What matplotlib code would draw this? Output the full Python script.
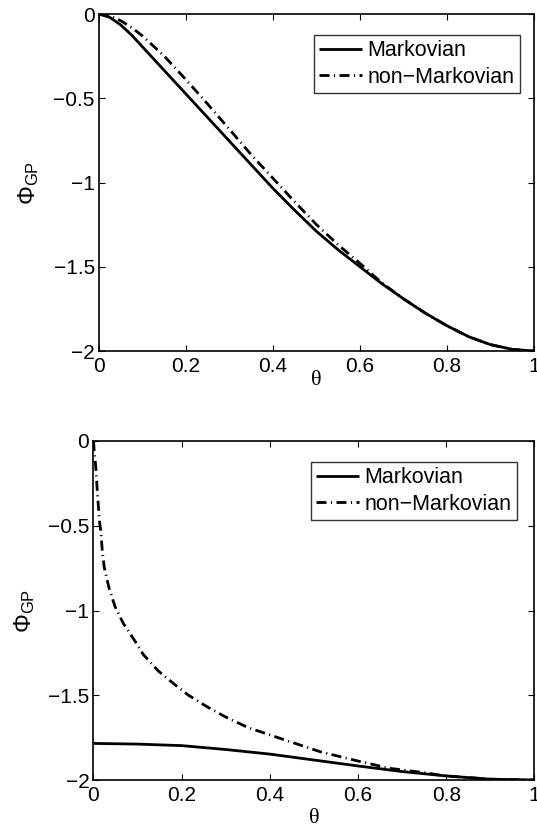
import matplotlib
matplotlib.use('Agg')
import matplotlib.pyplot as plt
import numpy as np

plt.rcParams['font.family'] = ['Liberation Sans', 'DejaVu Sans']
plt.rcParams['mathtext.fontset'] = 'custom'
plt.rcParams['mathtext.rm'] = 'Liberation Sans'

# top panel
theta_top = [0, 0.025, 0.05, 0.075, 0.1, 0.15, 0.2, 0.25, 0.3, 0.35, 0.4, 0.45,
             0.5, 0.55, 0.6, 0.65, 0.7, 0.75, 0.8, 0.85, 0.9, 0.95, 1.0]
markov_top = [0, -0.02, -0.065, -0.125, -0.195, -0.335, -0.475, -0.615, -0.755,
              -0.895, -1.035, -1.165, -1.29, -1.4, -1.5, -1.6, -1.69, -1.775,
              -1.85, -1.915, -1.962, -1.99, -2.0]
nonmarkov_top = [0, -0.01, -0.04, -0.08, -0.13, -0.25, -0.39, -0.535, -0.685,
                 -0.835, -0.975, -1.115, -1.25, -1.37, -1.48, -1.595, -1.69,
                 -1.775, -1.85, -1.915, -1.962, -1.99, -2.0]

# bottom panel
theta_m_bot = [0, 0.1, 0.2, 0.3, 0.4, 0.5, 0.6, 0.7, 0.8, 0.9, 1.0]
markov_bot = [-1.784, -1.788, -1.797, -1.82, -1.847, -1.882, -1.917, -1.95,
              -1.976, -1.995, -2.0]
theta_n_bot = [0, 0.0023, 0.005, 0.0087, 0.0136, 0.0163, 0.020, 0.0245, 0.035,
               0.0488, 0.0676, 0.094, 0.113, 0.147, 0.181, 0.215, 0.257, 0.298,
               0.35, 0.423, 0.514, 0.6, 0.672, 0.748, 0.8, 0.9, 1.0]
nonmarkov_bot = [0, -0.082, -0.146, -0.299, -0.475, -0.525, -0.649, -0.747,
                 -0.865, -0.977, -1.076, -1.18, -1.26, -1.357, -1.43, -1.499,
                 -1.567, -1.626, -1.69, -1.754, -1.833, -1.888, -1.931, -1.956,
                 -1.976, -1.995, -2.0]

labels = ['Markovian', 'non\u2212Markovian']
xticks = [0, 0.2, 0.4, 0.6, 0.8, 1]
yticks = [-2, -1.5, -1, -0.5, 0]

dashdot = (0, (3.6, 1.6, 0.4, 1.6))

fig = plt.figure(figsize=(5.37, 8.25), dpi=100)
ax1 = fig.add_axes([0.1844, 0.5745, 0.810, 0.4085])
ax2 = fig.add_axes([0.1741, 0.0545, 0.8212, 0.411])

panels = [(ax1, theta_top, markov_top, theta_top, nonmarkov_top, 0.968, -0.058, -0.133),
          (ax2, theta_m_bot, markov_bot, theta_n_bot, nonmarkov_bot, 0.960, -0.085, -0.128)]

for ax, tm, ym, tn, yn, legx, xlab_y, ylab_x in panels:
    ax.plot(tm, ym, color='k', lw=2.0, solid_capstyle='butt', label=labels[0])
    ax.plot(tn, yn, color='k', lw=2.0, linestyle=dashdot, dash_capstyle='butt',
            label=labels[1])
    ax.set_xlim(0, 1)
    ax.set_ylim(-2, 0)
    ax.set_xticks(xticks)
    ax.set_xticklabels(['0', '0.2', '0.4', '0.6', '0.8', '1'])
    ax.set_yticks(yticks)
    ax.set_yticklabels(['\u22122', '\u22121.5', '\u22121', '\u22120.5', '0'])
    ax.tick_params(direction='in', top=True, right=True, length=4, width=0.8,
                   labelsize=15, colors='k')
    ax.tick_params(axis='x', pad=4)
    ax.tick_params(axis='y', pad=3)
    for sp in ax.spines.values():
        sp.set_linewidth(1.2)
    ax.set_xlabel('\u03b8', fontsize=16, family=['Liberation Serif', 'DejaVu Serif'])
    ax.xaxis.set_label_coords(0.5, xlab_y)
    ax.set_ylabel(r'$\mathregular{\Phi_{GP}}$', fontsize=17)
    ax.yaxis.set_label_coords(ylab_x, 0.5)
    leg = ax.legend(loc='upper right', bbox_to_anchor=(legx, 0.938),
                    borderaxespad=0, fancybox=False, fontsize=15.5,
                    handlelength=2.0, handletextpad=0.25, labelspacing=0.25,
                    borderpad=0.25)
    leg.get_frame().set_edgecolor('k')
    leg.get_frame().set_linewidth(1.0)

fig.savefig('out.png', dpi=100)
